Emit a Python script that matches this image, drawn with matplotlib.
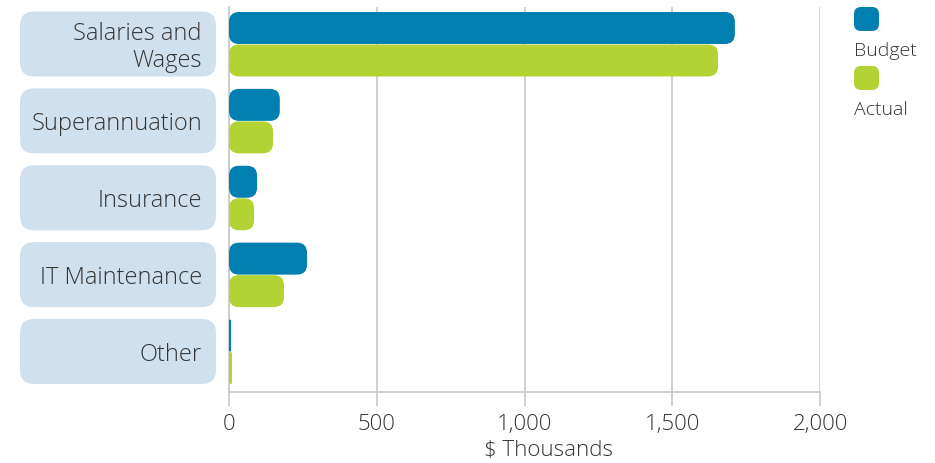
import matplotlib
matplotlib.use('Agg')
import matplotlib.pyplot as plt
from matplotlib.patches import FancyBboxPatch

# Budget vs actual spend by category ($ thousands)
categories = ['Salaries and\nWages', 'Superannuation', 'Insurance', 'IT Maintenance', 'Other']
budget = [1712, 172, 95, 264, 7]
actual = [1655, 149, 85, 186, 10]
series_names = ['Budget', 'Actual']
xticks = [0, 500, 1000, 1500, 2000]
xtick_labels = ['0', '500', '1,000', '1,500', '2,000']

BLUE = '#0080b0'
GREEN = '#b3d335'
BOX = '#d0e0ec'
TEXT = '#353535'
GRID = '#c8c8c8'

plt.rcParams['font.family'] = ['Open Sans', 'DejaVu Sans']
plt.rcParams['font.weight'] = 'light'

W, H = 935, 464
fig = plt.figure(figsize=(W / 100, H / 100), dpi=100)

def px_axes(x0, y0, x1, y1):
    # axes placed by pixel box (top-left origin)
    return fig.add_axes([x0 / W, 1 - y1 / H, (x1 - x0) / W, (y1 - y0) / H])

top_px, bot_px = 8, 393
left_px, right_px = 229, 820
step_px = 76.9
ylo, yhi = 4 + (bot_px - 352.5) / step_px, -(45 - top_px) / step_px

ax = px_axes(left_px, top_px, right_px, bot_px)
ax.set_xlim(0, 2000)
ax.set_ylim(ylo, yhi)

xunit = 2000 / (right_px - left_px)      # data x per pixel
yunit = 1 / step_px                       # data y per pixel
aspect = yunit / xunit

bar_h = 32 * yunit
rad_px = 10

def rbar(axis, x, y, w, h, color, r_px):
    r = min(r_px * xunit, w / 2, (h / 2) / aspect)
    p = FancyBboxPatch((x, y), w, h, boxstyle=f'round,pad=0,rounding_size={r}',
                       mutation_aspect=aspect, fc=color, ec='none', zorder=3)
    axis.add_patch(p)

for i in range(len(categories)):
    rbar(ax, 0, i - bar_h, budget[i], bar_h, BLUE, rad_px)
    rbar(ax, 0, i + 0.5 * yunit, actual[i], bar_h, GREEN, rad_px)

ax.set_xticks(xticks)
ax.set_xticklabels(xtick_labels)
ax.set_yticks([])
ax.grid(axis='x', color=GRID, lw=1.2, zorder=0)
for s in ['top', 'right']:
    ax.spines[s].set_visible(False)
for s in ['left', 'bottom']:
    ax.spines[s].set_color(GRID)
    ax.spines[s].set_linewidth(1.2)
ax.tick_params(axis='x', length=10, width=1.2, color=GRID, labelsize=16, labelcolor=TEXT, pad=5)
fig.text(548 / W, 1 - 451 / H, '$ Thousands', ha='center', va='center', fontsize=16, color=TEXT)

# category label boxes
lab = px_axes(20, top_px, 216, bot_px)
lab.set_xlim(0, 196)
lab.set_ylim(ylo, yhi)
lab.axis('off')
box_h = 65 * yunit
for i, name in enumerate(categories):
    p = FancyBboxPatch((0, i - box_h / 2), 196, box_h,
                       boxstyle='round,pad=0,rounding_size=14',
                       mutation_aspect=yunit, fc=BOX, ec='none')
    lab.add_patch(p)
    lab.text(182, i + 2.5 * yunit, name, ha='right', va='center', fontsize=17, color=TEXT,
             linespacing=1.2)

# legend
leg = px_axes(850, 0, 935, 125)
leg.set_xlim(0, 85)
leg.set_ylim(125, 0)
leg.axis('off')
for j, (name, c) in enumerate(zip(series_names, [BLUE, GREEN])):
    y0 = 8 + j * 59
    leg.add_patch(FancyBboxPatch((4, y0), 25, 24, boxstyle='round,pad=0,rounding_size=7',
                                 fc=c, ec='none'))
    leg.text(4, y0 + 43, name, ha='left', va='center', fontsize=14, color=TEXT)

fig.savefig('out.png', dpi=100)
